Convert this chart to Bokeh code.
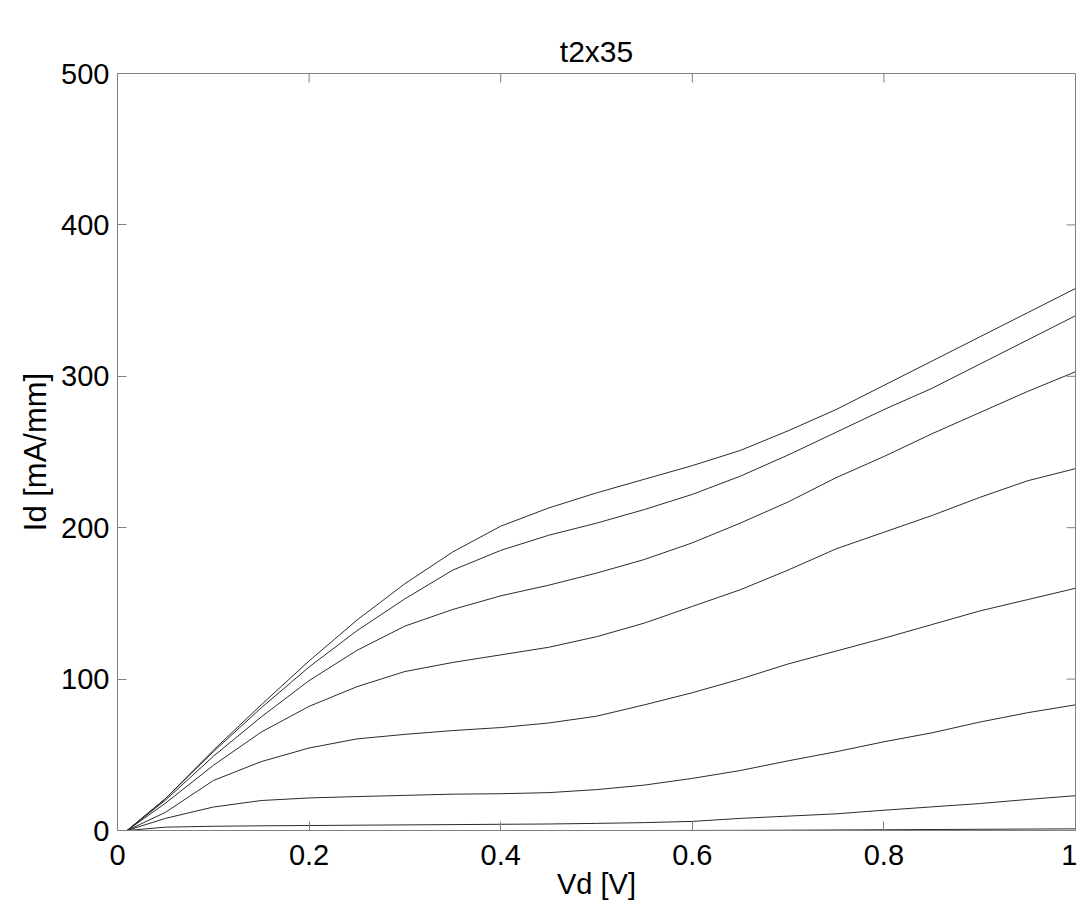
from bokeh.plotting import figure
from bokeh.models import Range1d, FixedTicker
from bokeh.embed import file_html
from bokeh.resources import INLINE

# ---- data ----
vd = [0.01, 0.05, 0.10, 0.15, 0.20, 0.25, 0.30, 0.35, 0.40, 0.45, 0.50,
      0.55, 0.60, 0.65, 0.70, 0.75, 0.80, 0.85, 0.90, 0.95, 1.00]
id_c1 = [0, 21, 53, 83, 112, 139, 163, 184, 201, 213, 223, 232, 241, 251, 264, 278, 294, 310, 326, 342, 358]
id_c2 = [0, 21, 52, 81, 108, 132, 153, 172, 185, 195, 203, 212, 222, 234, 248, 263, 278, 292, 308, 324, 340]
id_c3 = [0, 20, 49, 75, 99, 119, 135, 146, 155, 162, 170, 179, 190, 203, 217, 233, 247, 262, 276, 290, 303]
id_c4 = [0, 18, 43, 65, 82, 95, 105, 111, 116, 121, 128, 137, 148, 159, 172, 186, 197, 208, 220, 231, 239]
id_c5 = [0, 12, 33, 45.5, 54.5, 60.5, 63.5, 66, 68, 71, 75.5, 83, 91, 100, 110, 118.5, 127, 136, 145, 152.5, 160]
id_c6 = [0, 8, 15.5, 19.8, 21.5, 22.4, 23.2, 24, 24.3, 25, 27, 30, 34.4, 39.6, 46, 52, 58.6, 64.5, 71.6, 77.8, 83]
id_c7 = [0, 2.2, 2.8, 3.1, 3.3, 3.5, 3.7, 3.9, 4.1, 4.3, 4.7, 5.2, 6, 8, 9.5, 11, 13.4, 15.6, 17.8, 20.5, 23]
id_c8 = [0, 0, 0, 0, 0, 0, 0, 0, 0, 0, 0, 0, 0.05, 0.1, 0.2, 0.35, 0.5, 0.65, 0.8, 0.95, 1.1]
curves = [id_c1, id_c2, id_c3, id_c4, id_c5, id_c6, id_c7, id_c8]

x_ticks = [0, 0.2, 0.4, 0.6, 0.8, 1.0]
x_tick_labels = ["0", "0.2", "0.4", "0.6", "0.8", "1"]
y_ticks = [0, 100, 200, 300, 400, 500]

title_text = "t2x35"
x_label = "Vd [V]"
y_label = "Id [mA/mm]"

FONT = "Liberation Sans"
AX_COL = "#808080"
LINE_COL = "#2b2b2b"
X0, X1, Y0, Y1 = 0, 1, 0, 500

p = figure(width=1077, height=902, output_backend="svg", toolbar_location=None,
           x_range=Range1d(X0, X1), y_range=Range1d(Y0, Y1),
           min_border_left=117, min_border_right=2, min_border_top=73, min_border_bottom=72)
p.background_fill_color = "white"
p.border_fill_color = "white"
p.outline_line_color = AX_COL
p.outline_line_width = 1
p.grid.visible = False

p.title.text = title_text
p.title.text_font = FONT
p.title.text_font_size = "30px"
p.title.text_font_style = "normal"
p.title.align = "center"
p.title.vertical_align = "middle"
p.title.text_color = "black"

for ys in curves:
    p.line(vd, ys, line_color=LINE_COL, line_width=1)

# inward ticks on the top and right edges of the box (MATLAB style)
tick_len_y = 9 * (Y1 - Y0) / 757.0
tick_len_x = 9 * (X1 - X0) / 958.0
p.segment(x0=x_ticks, y0=[Y1] * len(x_ticks), x1=x_ticks, y1=[Y1 - tick_len_y] * len(x_ticks),
          line_color=AX_COL, line_width=1)
p.segment(x0=[X1] * len(y_ticks), y0=y_ticks, x1=[X1 - tick_len_x] * len(y_ticks), y1=y_ticks,
          line_color=AX_COL, line_width=1)

def style_axis(ax):
    ax.axis_line_color = AX_COL
    ax.major_tick_line_color = AX_COL
    ax.major_tick_in = 9
    ax.major_tick_out = 0
    ax.minor_tick_line_color = None
    ax.major_label_text_font = FONT
    ax.major_label_text_font_size = "29px"
    ax.major_label_text_color = "black"
    ax.axis_label_text_font = FONT
    ax.axis_label_text_font_size = "29px"
    ax.axis_label_text_font_style = "normal"
    ax.axis_label_text_color = "black"

xa = p.xaxis[0]
xa.ticker = FixedTicker(ticks=x_ticks)
xa.major_label_overrides = {t: l for t, l in zip(x_ticks, x_tick_labels)}
xa.axis_label = x_label
style_axis(xa)
xa.major_label_standoff = 14
xa.axis_label_standoff = 0

ya = p.yaxis[0]
ya.ticker = FixedTicker(ticks=y_ticks)
ya.axis_label = y_label
style_axis(ya)
ya.major_label_standoff = 8
ya.axis_label_standoff = 5
ya.axis_label_text_font_size = "31px"

open("out.html", "w").write(file_html(p, INLINE))
